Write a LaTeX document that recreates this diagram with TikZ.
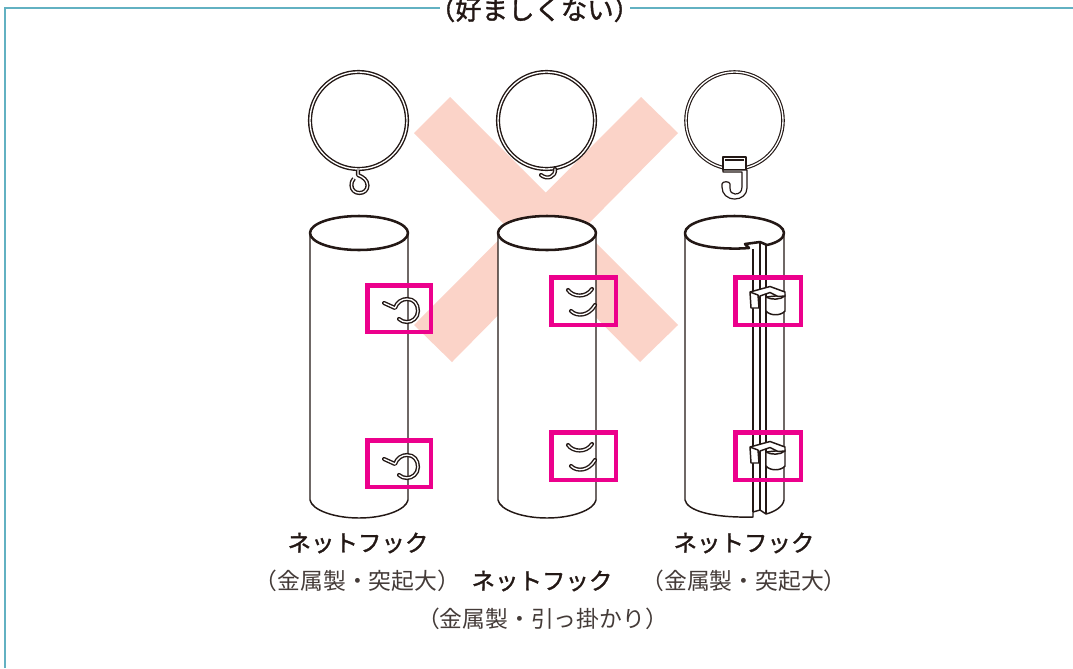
\documentclass[tikz,border=0pt]{standalone}
\usepackage{fontspec}
\newfontfamily\jpm[FakeBold=1.3]{Noto Sans CJK JP}
\newfontfamily\jpl{Noto Sans CJK JP}
\definecolor{frameC}{HTML}{62B1C2}
\definecolor{pinkC}{HTML}{EC008C}
\definecolor{xC}{HTML}{FBD3C8}
\definecolor{inkC}{HTML}{231815}
\tikzset{
  outline/.style={draw=inkC,line width=1.1pt,line join=round},
  rim/.style={draw=inkC,line width=1.9pt,line join=round},
  wire/.style={draw=inkC,line width=1.05pt,double=white,double distance=1pt,line cap=round,line join=round},
  marker/.style={draw=pinkC,line width=3.6pt,miter limit=10},
  band/.style={fill=xC,draw=none},
  head/.style={font=\jpm\fontsize{17.6pt}{20pt}\selectfont,text=inkC,inner sep=0pt},
  sub/.style={font=\jpl\fontsize{17.1pt}{20pt}\selectfont,text=inkC!85,inner sep=0pt},
  ttl/.style={font=\jpm\fontsize{19.8pt}{22pt}\selectfont,text=inkC,inner sep=0pt}
}
\newcommand{\bodyL}[1]{%
  \path[fill=white] (#1-49,233) -- (#1-49,500) .. controls (#1-47,510) and (#1-25,518) .. (#1,518) .. controls (#1+25,518) and (#1+47,510) .. (#1+49,500) -- (#1+49,233) -- cycle;
  \draw[outline] (#1-49,233) -- (#1-49,500) .. controls (#1-47,510) and (#1-25,518) .. (#1,518) .. controls (#1+25,518) and (#1+47,510) .. (#1+49,500) -- (#1+49,233);
  \draw[rim,fill=white] (#1,233) ellipse [x radius=49, y radius=17];
}
\newcommand{\bigHook}[1]{%
  \draw[wire,yshift=#1] (384,303) -- (395,308) .. controls (397,302) and (402,299) .. (407,299) .. controls (414,299) and (418,304) .. (418,311) .. controls (418,318) and (412,322) .. (407,322) .. controls (404,322) and (401,321) .. (399,319);
}
\newcommand{\slits}[1]{%
  \draw[wire,yshift=#1] (568,290) .. controls (573,297) and (586,298) .. (592,289);
  \draw[wire,yshift=#1] (571,311) .. controls (577,317) and (589,316) .. (595,305);
}
\newcommand{\clipPiece}[1]{%
  \begin{scope}[yshift=#1]
  \draw[outline,fill=white] (766,297) -- (766,311) .. controls (770,316) and (781,316) .. (785,311) -- (785,295) -- cycle;
  \draw[outline] (766,297) .. controls (771,300) and (780,300) .. (785,296);
  \draw[outline,fill=white] (750,292) -- (770,286.5) -- (785,292) -- (785,296) -- (778,296.5) -- (770,292.5) -- (760,296) -- (759,308) -- (751,308) -- cycle;
  \draw[outline] (750,292) -- (758,295) -- (759,308);
  \end{scope}
}
\begin{document}
\begin{tikzpicture}[x=0.75pt,y=-0.75pt]
\useasboundingbox (0,0) rectangle (1073,668);
\clip (0,0) rectangle (1073,668);
\path[fill=white] (0,0) rectangle (1073,668);
% frame
\node[ttl] (title) at (534.5,9.5) {（好ましくない）};
\coordinate (frameTL) at (5,8);
\coordinate (frameBL) at (5,668);
\coordinate (frameTR) at (1073,8);
\coordinate (gapL) at (440,8);
\coordinate (gapR) at (630,8);
\draw[frameC,line width=1.4pt] (frameBL) -- (frameTL) -- (gapL);
\draw[frameC,line width=1.4pt] (gapR) -- (frameTR);
% cross
\path[band] (450,97) -- (678,325) -- (640,362) -- (414,133) -- cycle;
\path[band] (641,97) -- (678,133) -- (452,362) -- (414,325) -- cycle;
% bodies
\bodyL{359}
\bodyL{547}
% third body
\path[fill=white] (685,233) -- (685,500) .. controls (687,510) and (710,518) .. (753,517) -- (753,248) -- cycle;
\path[fill=white] (753,245) rectangle (784,512);
\path[fill=white] (766,514) -- (784,500) -- (784,505) -- cycle;
\draw[outline] (685,233) -- (685,500) .. controls (687,510) and (710,518) .. (753,517) -- (753,512) -- (760,510) -- (766,514) .. controls (774,512) and (783,507) .. (784,500) -- (784,233);
\draw[outline] (753,249) -- (753,512);
\draw[outline] (760,242) -- (760,510);
\draw[outline] (766,245) -- (766,514);
\draw[rim,fill=white] (685,233) .. controls (685,223) and (710,216) .. (734.5,216) .. controls (759,216) and (784,223) .. (784,233) .. controls (784,239) and (776,243) .. (767,245) -- (760,242) -- (745,244) -- (749,248) .. controls (725,250) and (685,247) .. (685,233) -- cycle;
% rings
\draw[wire,fill=white] (358.5,120.5) circle [radius=48.5];
\draw[wire,line cap=butt] (358,170) -- (358,175) .. controls (363,177) and (367.5,180) .. (367.5,185.5) .. controls (367.5,190) and (364,193) .. (359.5,193) .. controls (355,193) and (351.5,190) .. (351.5,185.5) .. controls (351.5,182) and (352.5,180) .. (354,178.5);
\draw[wire,fill=white] (546.5,120.5) circle [radius=48.5];
\draw[wire] (555,169) .. controls (556,177) and (547,180) .. (541,175);
\draw[wire,line width=0.85pt,fill=white] (734.5,120.5) circle [radius=48.5];
\draw[outline,fill=white,line width=0.9pt] (723,157) -- (746,157) -- (746,170) -- (723,170) -- cycle;
\draw[outline,line width=0.9pt] (725,160) -- (744,160);
\draw[outline,fill=white,line width=0.9pt] (723,170) -- (747,170) -- (747,188) .. controls (747,195) and (741,199) .. (735,199) .. controls (727,199) and (722,194) .. (722,187) -- (722,184) .. controls (722,181) and (730,181) .. (730,184) -- (730,188) .. controls (730,192) and (732,194) .. (735,194) .. controls (739,194) and (742,192) .. (742,187) -- (742,172) -- (723,172) -- cycle;
% details
\bigHook{0pt}
\bigHook{-117pt}
\slits{0pt}
\slits{-116.25pt}
\clipPiece{0pt}
\clipPiece{-116.25pt}
% markers
\draw[marker] (367.5,285.5) rectangle (431,332);
\draw[marker] (367.5,440.5) rectangle (431,487);
\draw[marker] (551.5,277.5) rectangle (616,325);
\draw[marker] (551.5,432.5) rectangle (616,480);
\draw[marker] (735.5,277.5) rectangle (801,325);
\draw[marker] (735.5,432.5) rectangle (801,480);
% labels
\node[head] (h1) at (358,543) {ネットフック};
\node[sub] (s1) at (357.5,581) {（金属製・突起大）};
\node[head] (h2) at (542,581) {ネットフック};
\node[sub] (s2) at (542.5,619) {（金属製・引っ掛かり）};
\node[head] (h3) at (744,543) {ネットフック};
\node[sub] (s3) at (744,581) {（金属製・突起大）};
\end{tikzpicture}
\end{document}
